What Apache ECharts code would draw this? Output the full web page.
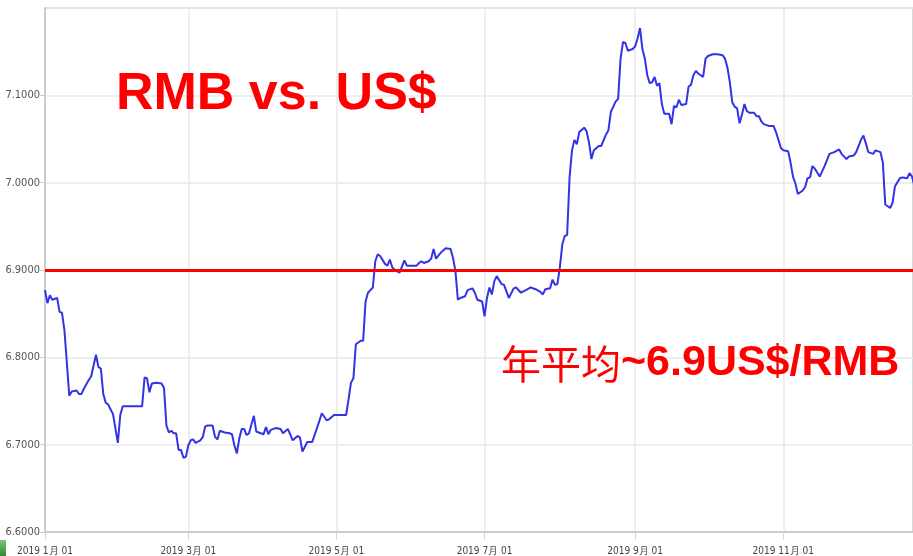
<!DOCTYPE html>
<html>
<head>
<meta charset="utf-8">
<script src="https://cdn.jsdelivr.net/npm/echarts@6/dist/echarts.min.js"></script>
<style>
  html, body { margin: 0; padding: 0; background: #fff; }
  #main { width: 913px; height: 556px; }
</style>
</head>
<body>
<div id="main"></div>
<script>
  // 日期（2019年）
  var dates = [
    '2019-01-01', '2019-01-02', '2019-01-03', '2019-01-04', '2019-01-06', '2019-01-07', '2019-01-08', '2019-01-09',
    '2019-01-11', '2019-01-12', '2019-01-14', '2019-01-15', '2019-01-16', '2019-01-17', '2019-01-19', '2019-01-20',
    '2019-01-22', '2019-01-23', '2019-01-24', '2019-01-25', '2019-01-26', '2019-01-27', '2019-01-29', '2019-01-31',
    '2019-02-01', '2019-02-02', '2019-02-10', '2019-02-11', '2019-02-12', '2019-02-13', '2019-02-14', '2019-02-16',
    '2019-02-18', '2019-02-19', '2019-02-20', '2019-02-21', '2019-02-22', '2019-02-23', '2019-02-24', '2019-02-25',
    '2019-02-26', '2019-02-27', '2019-02-28', '2019-03-01', '2019-03-02', '2019-03-03', '2019-03-04', '2019-03-06',
    '2019-03-07', '2019-03-08', '2019-03-09', '2019-03-11', '2019-03-12', '2019-03-13', '2019-03-14', '2019-03-16',
    '2019-03-18', '2019-03-19', '2019-03-20', '2019-03-21', '2019-03-22', '2019-03-23', '2019-03-24', '2019-03-25',
    '2019-03-26', '2019-03-28', '2019-03-29', '2019-03-30', '2019-04-01', '2019-04-02', '2019-04-03', '2019-04-04',
    '2019-04-06', '2019-04-08', '2019-04-09', '2019-04-11', '2019-04-13', '2019-04-15', '2019-04-16', '2019-04-17',
    '2019-04-19', '2019-04-21', '2019-04-22', '2019-04-23', '2019-04-25', '2019-04-27', '2019-04-28', '2019-04-30',
    '2019-05-05', '2019-05-06', '2019-05-07', '2019-05-08', '2019-05-09', '2019-05-11', '2019-05-12', '2019-05-13',
    '2019-05-14', '2019-05-15', '2019-05-16', '2019-05-17', '2019-05-18', '2019-05-19', '2019-05-21', '2019-05-22',
    '2019-05-23', '2019-05-24', '2019-05-25', '2019-05-27', '2019-05-29', '2019-05-30', '2019-06-01', '2019-06-03',
    '2019-06-04', '2019-06-05', '2019-06-06', '2019-06-08', '2019-06-09', '2019-06-10', '2019-06-11', '2019-06-13',
    '2019-06-15', '2019-06-17', '2019-06-18', '2019-06-19', '2019-06-20', '2019-06-21', '2019-06-23', '2019-06-24',
    '2019-06-26', '2019-06-27', '2019-06-28', '2019-06-30', '2019-07-01', '2019-07-02', '2019-07-03', '2019-07-04',
    '2019-07-05', '2019-07-06', '2019-07-08', '2019-07-09', '2019-07-11', '2019-07-13', '2019-07-14', '2019-07-16',
    '2019-07-18', '2019-07-20', '2019-07-22', '2019-07-24', '2019-07-25', '2019-07-26', '2019-07-28', '2019-07-29',
    '2019-07-30', '2019-07-31', '2019-08-01', '2019-08-02', '2019-08-03', '2019-08-04', '2019-08-05', '2019-08-06',
    '2019-08-07', '2019-08-08', '2019-08-09', '2019-08-11', '2019-08-12', '2019-08-13', '2019-08-14', '2019-08-15',
    '2019-08-17', '2019-08-18', '2019-08-20', '2019-08-21', '2019-08-22', '2019-08-24', '2019-08-25', '2019-08-26',
    '2019-08-27', '2019-08-28', '2019-08-29', '2019-08-31', '2019-09-01', '2019-09-02', '2019-09-03', '2019-09-04',
    '2019-09-05', '2019-09-06', '2019-09-07', '2019-09-08', '2019-09-09', '2019-09-10', '2019-09-11', '2019-09-12',
    '2019-09-13', '2019-09-15', '2019-09-16', '2019-09-17', '2019-09-18', '2019-09-19', '2019-09-20', '2019-09-22',
    '2019-09-23', '2019-09-24', '2019-09-25', '2019-09-26', '2019-09-27', '2019-09-29', '2019-09-30', '2019-10-01',
    '2019-10-03', '2019-10-05', '2019-10-07', '2019-10-08', '2019-10-09', '2019-10-10', '2019-10-11', '2019-10-12',
    '2019-10-13', '2019-10-14', '2019-10-15', '2019-10-16', '2019-10-17', '2019-10-18', '2019-10-20', '2019-10-21',
    '2019-10-22', '2019-10-23', '2019-10-24', '2019-10-26', '2019-10-28', '2019-10-29', '2019-10-31', '2019-11-01',
    '2019-11-03', '2019-11-04', '2019-11-05', '2019-11-06', '2019-11-07', '2019-11-09', '2019-11-10', '2019-11-11',
    '2019-11-12', '2019-11-13', '2019-11-14', '2019-11-16', '2019-11-18', '2019-11-20', '2019-11-22', '2019-11-24',
    '2019-11-25', '2019-11-27', '2019-11-28', '2019-11-30', '2019-12-01', '2019-12-03', '2019-12-04', '2019-12-05',
    '2019-12-06', '2019-12-08', '2019-12-09', '2019-12-11', '2019-12-12', '2019-12-13', '2019-12-15', '2019-12-16',
    '2019-12-17', '2019-12-19', '2019-12-20', '2019-12-22', '2019-12-23', '2019-12-24', '2019-12-25'
  ]
  // 人民币兑美元汇率
  var rates = [
    6.877, 6.862, 6.871, 6.866, 6.868, 6.852, 6.851, 6.831,
    6.756, 6.761, 6.762, 6.758, 6.758, 6.764, 6.774, 6.778,
    6.803, 6.789, 6.787, 6.758, 6.748, 6.746, 6.735, 6.702,
    6.734, 6.744, 6.744, 6.777, 6.776, 6.760, 6.770, 6.771,
    6.770, 6.765, 6.722, 6.714, 6.716, 6.713, 6.713, 6.694,
    6.694, 6.685, 6.686, 6.699, 6.705, 6.706, 6.702, 6.705,
    6.709, 6.721, 6.722, 6.722, 6.709, 6.706, 6.716, 6.714,
    6.713, 6.712, 6.699, 6.690, 6.707, 6.718, 6.718, 6.711,
    6.713, 6.733, 6.715, 6.714, 6.712, 6.720, 6.712, 6.717,
    6.719, 6.718, 6.713, 6.718, 6.705, 6.710, 6.708, 6.692,
    6.703, 6.703, 6.711, 6.719, 6.736, 6.728, 6.729, 6.734,
    6.734, 6.752, 6.771, 6.776, 6.815, 6.819, 6.819, 6.864,
    6.874, 6.877, 6.880, 6.910, 6.918, 6.916, 6.907, 6.905,
    6.912, 6.903, 6.900, 6.897, 6.911, 6.905, 6.905, 6.905,
    6.908, 6.910, 6.908, 6.910, 6.913, 6.924, 6.913, 6.920,
    6.925, 6.924, 6.914, 6.899, 6.866, 6.868, 6.870, 6.877,
    6.879, 6.874, 6.866, 6.864, 6.847, 6.868, 6.880, 6.872,
    6.887, 6.893, 6.884, 6.883, 6.868, 6.879, 6.880, 6.874,
    6.877, 6.880, 6.878, 6.875, 6.872, 6.878, 6.879, 6.889,
    6.883, 6.884, 6.903, 6.929, 6.939, 6.940, 7.006, 7.037,
    7.049, 7.044, 7.058, 7.063, 7.059, 7.046, 7.027, 7.037,
    7.042, 7.042, 7.055, 7.060, 7.081, 7.093, 7.096, 7.142,
    7.161, 7.160, 7.151, 7.153, 7.156, 7.165, 7.177, 7.153,
    7.142, 7.123, 7.114, 7.115, 7.121, 7.111, 7.114, 7.090,
    7.079, 7.079, 7.067, 7.088, 7.086, 7.095, 7.089, 7.090,
    7.110, 7.112, 7.123, 7.128, 7.125, 7.121, 7.142, 7.145,
    7.147, 7.147, 7.146, 7.142, 7.132, 7.115, 7.092, 7.087,
    7.085, 7.068, 7.078, 7.090, 7.082, 7.080, 7.080, 7.076,
    7.076, 7.070, 7.067, 7.065, 7.065, 7.058, 7.040, 7.037,
    7.036, 7.023, 7.007, 6.999, 6.987, 6.991, 6.995, 7.005,
    7.006, 7.019, 7.016, 7.007, 7.019, 7.033, 7.035, 7.038,
    7.033, 7.027, 7.030, 7.031, 7.035, 7.049, 7.054, 7.045,
    7.035, 7.033, 7.037, 7.035, 7.023, 6.975, 6.971, 6.977,
    6.996, 7.005, 7.006, 7.005, 7.011, 7.007, 6.996
  ]
  // 坐标轴刻度
  var monthTicks = ['2019-01-01', '2019-03-01', '2019-05-01', '2019-07-01', '2019-09-01', '2019-11-01']
  var xStart = '2019-01-01'
  var xEnd = '2019-12-24T10:00:00'
  var yMin = 6.6
  var yMax = 7.2
  var yStep = 0.1
  var avgRate = 6.902

  // 日期字符串转时间戳（UTC）
  function ts (s) {
    return Date.parse(s.length === 10 ? s + 'T00:00:00Z' : s + 'Z')
  }

  var points = dates.map(function (d, i) { return [ts(d), rates[i]] })
  var tickValues = monthTicks.map(ts)
  var narrowFont = '"Liberation Sans Narrow", "DejaVu Sans Condensed", sans-serif'

  var myChart = echarts.init(document.getElementById('main'))
  var option = {
    animation: false,
    backgroundColor: '#fff',
    title: [
      {
        text: 'RMB vs. US$',
        left: 111,
        top: 64,
        textStyle: { color: '#ff0000', fontSize: 52, fontWeight: 'bold', fontFamily: 'Liberation Sans, Arial, sans-serif' }
      },
      {
        text: '{cn|年平均}{en|~6.9US$/RMB}',
        left: 496,
        top: 337,
        textStyle: {
          rich: {
            cn: { color: '#ff0000', fontSize: 40, fontWeight: 'normal', fontFamily: '"Noto Sans CJK SC", sans-serif' },
            en: { color: '#ff0000', fontSize: 43, fontWeight: 'bold', fontFamily: 'Liberation Sans, Arial, sans-serif' }
          }
        }
      }
    ],
    grid: {
      left: 45,
      right: -3,
      top: 8,
      bottom: 24,
      show: true,
      borderColor: '#d9d9d9',
      borderWidth: 2
    },
    xAxis: {
      type: 'value',
      min: ts(xStart),
      max: ts(xEnd),
      axisLine: { show: true, onZero: false, lineStyle: { color: '#cccccc', width: 2 } },
      axisTick: { show: true, length: 8, customValues: tickValues, lineStyle: { color: '#d5d5d5' } },
      splitLine: { show: true, lineStyle: { color: '#e8e8e8', width: 1.5 } },
      axisLabel: {
        customValues: tickValues,
        margin: 14,
        color: '#444',
        fontSize: 10,
        fontFamily: narrowFont,
        formatter: function (v) {
          var d = new Date(v)
          return d.getUTCFullYear() + ' ' + (d.getUTCMonth() + 1) + '月 01'
        }
      }
    },
    yAxis: {
      type: 'value',
      min: yMin,
      max: yMax,
      interval: yStep,
      axisLine: { show: true, lineStyle: { color: '#cccccc', width: 2 } },
      axisTick: { show: true, length: 5, lineStyle: { color: '#cccccc' } },
      splitLine: { show: true, lineStyle: { color: '#e8e8e8', width: 1.5 } },
      axisLabel: {
        margin: 5,
        color: '#555',
        fontSize: 11,
        fontFamily: narrowFont,
        showMaxLabel: false,
        formatter: function (v) { return v.toFixed(4) }
      }
    },
    series: [
      {
        name: 'RMB/USD',
        type: 'line',
        data: points,
        showSymbol: false,
        clip: true,
        lineStyle: { color: '#3333e6', width: 2 },
        markLine: {
          silent: true,
          symbol: 'none',
          label: { show: false },
          lineStyle: { color: '#ff0000', width: 3, type: 'solid' },
          data: [{ yAxis: avgRate }]
        }
      }
    ],
    graphic: [
      {
        type: 'rect',
        left: 0,
        top: 540,
        shape: { width: 6, height: 16 },
        style: {
          fill: new echarts.graphic.LinearGradient(0, 0, 0, 1, [
            { offset: 0, color: '#7bc47b' },
            { offset: 1, color: '#2e8b2e' }
          ])
        }
      }
    ]
  }
  myChart.setOption(option)
</script>
</body>
</html>
